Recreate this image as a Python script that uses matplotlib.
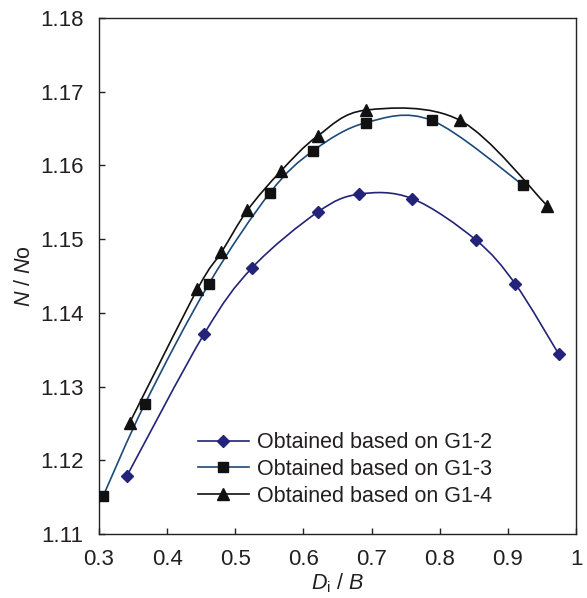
import matplotlib
matplotlib.use("Agg")
import matplotlib.pyplot as plt
from matplotlib.path import Path
from matplotlib.patches import PathPatch
from matplotlib.lines import Line2D
import numpy as np

plt.rcParams['font.family'] = ['Liberation Sans', 'DejaVu Sans']
plt.rcParams['mathtext.fontset'] = 'custom'
plt.rcParams['mathtext.it'] = 'Liberation Sans:italic'
plt.rcParams['mathtext.rm'] = 'Liberation Sans'

# Data
g12_x = [0.341, 0.454, 0.5245, 0.6214, 0.682, 0.7594, 0.8528, 0.911, 0.9746]
g12_y = [1.1179, 1.1371, 1.1461, 1.1537, 1.1561, 1.1555, 1.1499, 1.1439, 1.1344]
g13_x = [0.3063, 0.367, 0.461, 0.551, 0.6145, 0.6918, 0.7882, 0.9227]
g13_y = [1.1152, 1.1276, 1.1439, 1.1563, 1.1620, 1.1658, 1.1661, 1.1573]
g14_x = [0.345, 0.4443, 0.4795, 0.5177, 0.5666, 0.621, 0.6918, 0.8298, 0.958]
g14_y = [1.1251, 1.1432, 1.1482, 1.1539, 1.1592, 1.1640, 1.1675, 1.1661, 1.1545]
labels = ["Obtained based on G1-2", "Obtained based on G1-3", "Obtained based on G1-4"]
x_ticks = [0.3, 0.4, 0.5, 0.6, 0.7, 0.8, 0.9, 1.0]
x_ticklabels = ["0.3", "0.4", "0.5", "0.6", "0.7", "0.8", "0.9", "1"]
y_ticks = [1.11, 1.12, 1.13, 1.14, 1.15, 1.16, 1.17, 1.18]
y_ticklabels = ["1.11", "1.12", "1.13", "1.14", "1.15", "1.16", "1.17", "1.18"]

c12 = '#23237a'
c13 = '#1d4a78'
c14 = '#111111'
txt = '#231f20'


def smooth_path(xs, ys):
    pts = np.column_stack([xs, ys]).astype(float)
    n = len(pts)
    verts = [pts[0]]
    codes = [Path.MOVETO]
    for i in range(n - 1):
        p0 = pts[i - 1] if i > 0 else pts[i]
        p1 = pts[i]
        p2 = pts[i + 1]
        p3 = pts[i + 2] if i + 2 < n else pts[i + 1]
        c1 = p1 + (p2 - p0) / 6.0
        c2 = p2 - (p3 - p1) / 6.0
        verts += [c1, c2, p2]
        codes += [Path.CURVE4] * 3
    return Path(verts, codes)


fig = plt.figure(figsize=(5.87, 5.98), dpi=100)
ax = fig.add_axes([0.1687, 0.107, 0.8126, 0.863])

series = [
    (g12_x, g12_y, c12, 'D', 6, c12),
    (g13_x, g13_y, c13, 's', 6.5, '#111111'),
    (g14_x, g14_y, c14, '^', 8.5, '#111111'),
]
handles = []
for (xs, ys, col, mk, ms, mc), lab in zip(series, labels):
    patch = PathPatch(smooth_path(xs, ys), facecolor='none', edgecolor=col, lw=1.2, zorder=2)
    ax.add_patch(patch)
    ax.plot(xs, ys, linestyle='none', marker=mk, markersize=ms, color=mc, zorder=3)
    handles.append(Line2D([], [], color=col, lw=1.2, marker=mk, markersize=ms,
                          markerfacecolor=mc, markeredgecolor=mc))

ax.set_xlim(0.3, 1.0)
ax.set_ylim(1.11, 1.18)
ax.set_xticks(x_ticks)
ax.set_xticklabels(x_ticklabels)
ax.set_yticks(y_ticks)
ax.set_yticklabels(y_ticklabels)
ax.tick_params(direction='in', length=4, width=1, labelsize=16, pad=11,
               colors='#222222', labelcolor=txt)
for s in ax.spines.values():
    s.set_linewidth(1.0)
    s.set_color('#222222')

ax.set_xlabel(r'$D_{\mathrm{i}}$ / $B$', fontsize=15.5, labelpad=1, color=txt)
ax.set_ylabel(r'$N$ / $N$o', fontsize=15.5, labelpad=4, color=txt)

leg = ax.legend(handles, labels, loc='lower left', bbox_to_anchor=(0.189, 0.036),
                frameon=False, fontsize=15.5, handlelength=2.37, handletextpad=0.37,
                labelspacing=0.27, borderaxespad=0)
for t in leg.get_texts():
    t.set_color(txt)

fig.savefig('out.png', dpi=100)
